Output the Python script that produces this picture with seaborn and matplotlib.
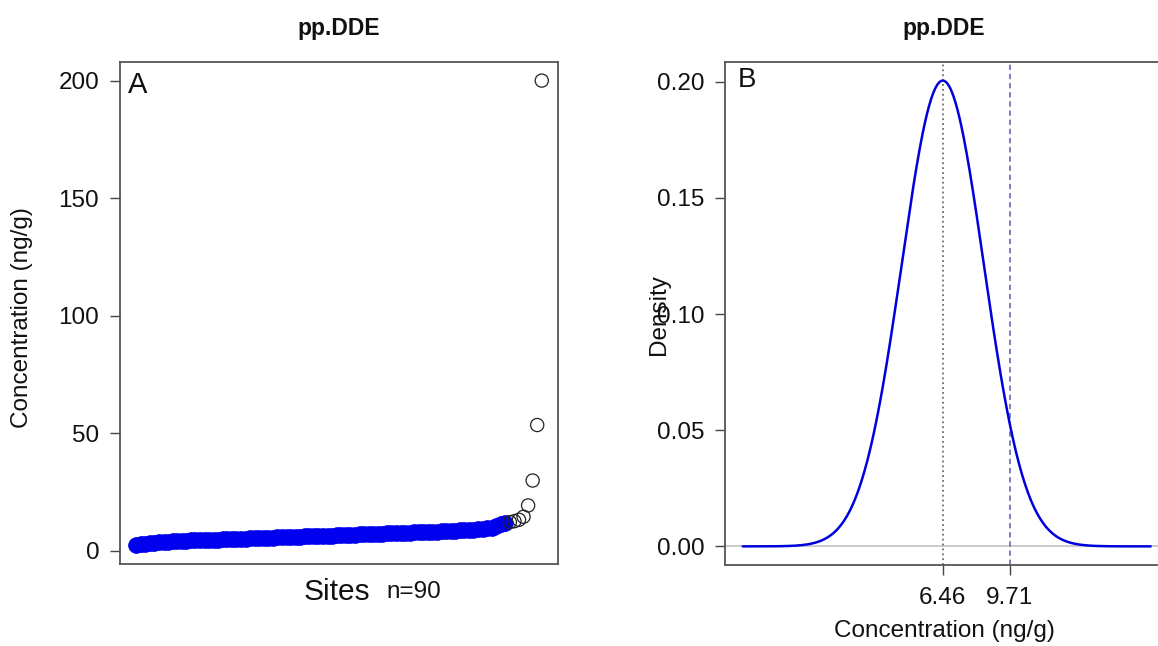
import numpy as np
import pandas as pd
import matplotlib
matplotlib.use("Agg")
import matplotlib.pyplot as plt
import seaborn as sns

# Sorted pp.DDE concentrations (ng/g) at the 90 sites
conc = [
    2.3, 2.8, 3.1, 3.3, 3.5, 3.6, 3.8, 3.9, 4.0, 4.1,
    4.2, 4.3, 4.4, 4.5, 4.5, 4.6, 4.7, 4.7, 4.8, 4.9,
    5.0, 5.0, 5.1, 5.2, 5.2, 5.3, 5.4, 5.4, 5.5, 5.6,
    5.6, 5.7, 5.8, 5.8, 5.9, 6.0, 6.0, 6.1, 6.2, 6.3,
    6.3, 6.4, 6.5, 6.5, 6.6, 6.7, 6.7, 6.8, 6.9, 7.0,
    7.0, 7.1, 7.2, 7.2, 7.3, 7.4, 7.4, 7.5, 7.6, 7.7,
    7.7, 7.8, 7.9, 8.0, 8.0, 8.1, 8.2, 8.3, 8.4, 8.5,
    8.6, 8.7, 8.8, 8.9, 9.0, 9.1, 9.3, 9.5, 9.8, 10.4,
    11.4, 11.8,
    12.2, 12.6, 13.2, 14.5, 19.3, 29.9, 53.5, 200.0,
]
outlier_cut = 12.0          # values above this are drawn as open circles
yticks_a = [0, 50, 100, 150, 200]

# Fitted normal for panel B
center_val = 6.46
upper_val = 9.71
sd_val = 1.99
curve_lo, curve_hi = -3.25, 16.55
yticks_b = [0.00, 0.05, 0.10, 0.15, 0.20]
xtick_labels_b = ["6.46", "9.71"]

sns.set_theme(style="ticks")
plt.rcParams["font.family"] = ["Liberation Sans", "DejaVu Sans"]

W, H = 1158, 646
fig = plt.figure(figsize=(W / 100, H / 100), dpi=100)

def px_axes(x0, y0, x1, y1):
    return fig.add_axes([x0 / W, 1 - y1 / H, (x1 - x0) / W, (y1 - y0) / H])

axA = px_axes(120, 62, 558, 564)
axB = px_axes(725, 62, 1163, 565)

spine_col = "#555555"
for ax in (axA, axB):
    for s in ax.spines.values():
        s.set_visible(True)
        s.set_color(spine_col)
        s.set_linewidth(1.3)
    ax.tick_params(axis="both", direction="out", length=7, width=1.0,
                   color="#444444", labelsize=17.5, pad=8, labelcolor="#111111")

# ---- Panel A: sorted concentrations by site ----
df = pd.DataFrame({"site": np.arange(1, len(conc) + 1), "conc": conc})
df["high"] = df["conc"] > outlier_cut

sns.scatterplot(data=df[~df["high"]], x="site", y="conc", ax=axA,
                color="#0000ee", s=130, edgecolor="#0000ee", linewidth=0.5,
                legend=False, zorder=3)
sns.scatterplot(data=df[df["high"]], x="site", y="conc", ax=axA,
                facecolor="none", edgecolor="#222222", s=90, linewidth=0.9,
                legend=False, zorder=3)

n = len(conc)
pad_x = 0.04 * (n - 1)
axA.set_xlim(1 - pad_x, n + pad_x)
rng = max(conc) - min(conc)
axA.set_ylim(min(conc) - 0.04 * rng, max(conc) + 0.04 * rng)
axA.set_xticks([])
axA.set_yticks(yticks_a)
axA.set_yticklabels([str(v) for v in yticks_a])
axA.set_xlabel("")
axA.set_ylabel("")
axA.text(-0.224, 0.49, "Concentration (ng/g)", transform=axA.transAxes,
         rotation=90, ha="center", va="center", fontsize=17.5, color="#111111")
axA.text(0.496, -0.056, "Sites", transform=axA.transAxes, ha="center",
         va="center", fontsize=21.5, color="#111111")
axA.text(0.67, -0.056, f"n={n}", transform=axA.transAxes, ha="center",
         va="center", fontsize=17.5, color="#111111")
axA.text(0.5, 1 + 34 / 502, "pp.DDE", transform=axA.transAxes, ha="center",
         va="center", fontsize=16.5, fontweight="bold", color="#111111")
axA.text(0.018, 0.955, "A", transform=axA.transAxes, ha="left", va="center",
         fontsize=21, color="#111111")

# ---- Panel B: normal density ----
xs = np.linspace(curve_lo, curve_hi, 400)
dens = np.exp(-0.5 * ((xs - center_val) / sd_val) ** 2) / (sd_val * np.sqrt(2 * np.pi))
dfb = pd.DataFrame({"x": xs, "density": dens})

axB.axhline(0, color="#bdbdbd", lw=1.1, zorder=1)
axB.axvline(center_val, color="#555555", lw=1.1, ls=(0, (1.2, 2.0)), zorder=2)
axB.axvline(upper_val, color="#5a5ab4", lw=1.1, ls=(0, (3.5, 2.5)), zorder=2)
sns.lineplot(data=dfb, x="x", y="density", ax=axB, color="#0000dd",
             lw=1.8, zorder=3)

dmax = dens.max()
axB.set_xlim(-4.11, 17.15)
axB.set_ylim(-0.04 * dmax, dmax * 1.04)
axB.set_xticks([center_val, upper_val])
axB.set_xticklabels(xtick_labels_b)
axB.set_yticks(yticks_b)
axB.set_yticklabels([f"{v:.2f}" for v in yticks_b])
axB.tick_params(axis="x", pad=9)
axB.set_xlabel("Concentration (ng/g)", fontsize=17.5, labelpad=8, color="#111111")
axB.set_ylabel("")
axB.text(-0.151, 0.497, "Density", transform=axB.transAxes, rotation=90,
         ha="center", va="center", fontsize=17.5, color="#111111")
axB.text(0.5, 1 + 34 / 503, "pp.DDE", transform=axB.transAxes, ha="center",
         va="center", fontsize=16.5, fontweight="bold", color="#111111")
axB.text(0.03, 0.965, "B", transform=axB.transAxes, ha="left", va="center",
         fontsize=20, color="#111111")

fig.savefig("out.png", dpi=100)
